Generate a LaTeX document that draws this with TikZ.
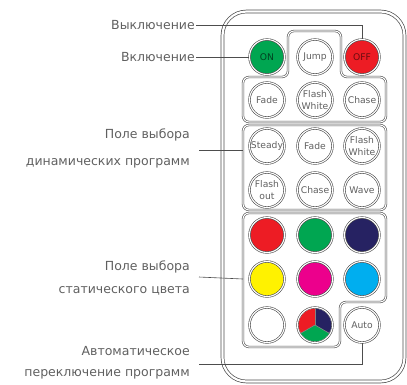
\documentclass[tikz,border=0pt]{standalone}
\usepackage{fontspec}
\setmainfont{DejaVu Sans}
\usetikzlibrary{positioning, calc}

\definecolor{lineGray}{HTML}{4D4D4D}
\definecolor{textGray}{HTML}{606060}
\definecolor{btnRed}{HTML}{ED1C24}
\definecolor{btnGreen}{HTML}{00A651}
\definecolor{btnNavy}{HTML}{262262}
\definecolor{btnYellow}{HTML}{FFF200}
\definecolor{btnMagenta}{HTML}{EC008C}
\definecolor{btnCyan}{HTML}{00AEEF}

\tikzset{
	dbl/.style={draw=lineGray, line width=0.6pt, double=white, double distance=1.1pt},
	btn/.style={dbl, circle, fill=white, minimum size=35pt, inner sep=0pt, align=center,
		text=textGray, font=\fontsize{9.2}{11.5}\selectfont},
	grp/.style={dbl, rounded corners=6pt},
	lbl/.style={text=textGray, font=\fontsize{12.5}{24}\selectfont, align=right, anchor=east, inner sep=1pt},
	lead/.style={draw=lineGray, line width=0.6pt},
}

\begin{document}
\begin{tikzpicture}[x=1pt, y=-1pt]
				\useasboundingbox (0,0) rectangle (407,384);
				
				% body of the remote
				\draw[draw=lineGray, line width=0.7pt, double=white, double distance=2.2pt, rounded corners=24pt]
					(222.5,11.5) rectangle (404.5,381.5);
				
				% groups
				\draw[grp] (288,31) -- (341,31) -- (341,77) -- (386,77) -- (386,122)
					-- (243,122) -- (243,77) -- (288,77) -- cycle;
				\node[grp, rectangle, minimum width=143pt, minimum height=85pt] (dyn) at (314.5,167.5) {};
				\draw[grp] (243,213) -- (386,213) -- (386,302) -- (340,302) -- (340,347)
					-- (243,347) -- cycle;
				\coordinate (col) at (243,279);
				
				% buttons
				\node[btn, fill=btnGreen, text=black, text opacity=0.6] (on) at (267,57) {ON};
				\node[btn] (jump) at (315,57) {Jump};
				\node[btn, fill=btnRed, text=black, text opacity=0.55] (off) at (362,57) {OFF};
				
				\node[btn] (fade1) at (267,100) {Fade};
				\node[btn] (white1) at (315,100) {Flash\\White};
				\node[btn] (chase1) at (362,100) {Chase};
				
				\node[btn] (steady) at (267,146) {Steady};
				\node[btn] (fade2) at (315,146) {Fade};
				\node[btn] (white2) at (362,146) {Flash\\White};
				
				\node[btn] (flashout) at (267,190) {Flash\\out};
				\node[btn] (chase2) at (315,190) {Chase};
				\node[btn] (wave) at (362,190) {Wave};
				
				\node[btn, fill=btnRed] (red) at (267,235) {};
				\node[btn, fill=btnGreen] (green) at (315,235) {};
				\node[btn, fill=btnNavy] (navy) at (362,235) {};
				
				\node[btn, fill=btnYellow] (yellow) at (267,279) {};
				\node[btn, fill=btnMagenta] (magenta) at (315,279) {};
				\node[btn, fill=btnCyan] (cyan) at (362,279) {};
				
				\node[btn] (white) at (267,325) {};
				\node[btn] (rgb) at (315,325) {};
				\node[btn] (auto) at (362,325) {Auto};
				
				% three colours of the rgb button (y axis points down)
				\fill[btnNavy] (rgb.center) -- ++(270:16.3) arc[start angle=270, end angle=390, radius=16.3] -- cycle;
				\fill[btnRed] (rgb.center) -- ++(270:16.3) arc[start angle=270, end angle=150, radius=16.3] -- cycle;
				\fill[btnGreen] (rgb.center) -- ++(30:16.3) arc[start angle=30, end angle=150, radius=16.3] -- cycle;
				\foreach \a in {270, 150, 30}
					\draw[lineGray!70, line width=0.6pt] (rgb.center) -- ++(\a:16.3);
				
				% labels
				\node[lbl] (off-lbl) at (196,25) {Выключение};
				\node[lbl] (on-lbl) at (196,57) {Включение};
				\node[lbl, font=\fontsize{12.5}{27}\selectfont] (dyn-lbl) at (191,148) {Поле выбора\\динамических программ};
				\node[lbl, font=\fontsize{12.5}{23}\selectfont] (col-lbl) at (191,278) {Поле выбора\\статического цвета};
				\node[lbl, font=\fontsize{12.5}{21}\selectfont] (auto-lbl) at (191,363) {Автоматическое\\переключение программ};
				
				\draw[lead] (off-lbl.east) -| (off.north);
				\draw[lead] (on-lbl.east) -- (on.west);
				\draw[lead] ([xshift=8pt,yshift=-2pt]dyn-lbl.east) -- ([yshift=-2pt]dyn-lbl.east -| dyn.west);
				\draw[lead] ([xshift=8pt,yshift=1pt]col-lbl.east) -- (col);
				\draw[lead] ([xshift=8pt,yshift=-1pt]auto-lbl.east) -| (auto.south);
			\end{tikzpicture}
\end{document}
